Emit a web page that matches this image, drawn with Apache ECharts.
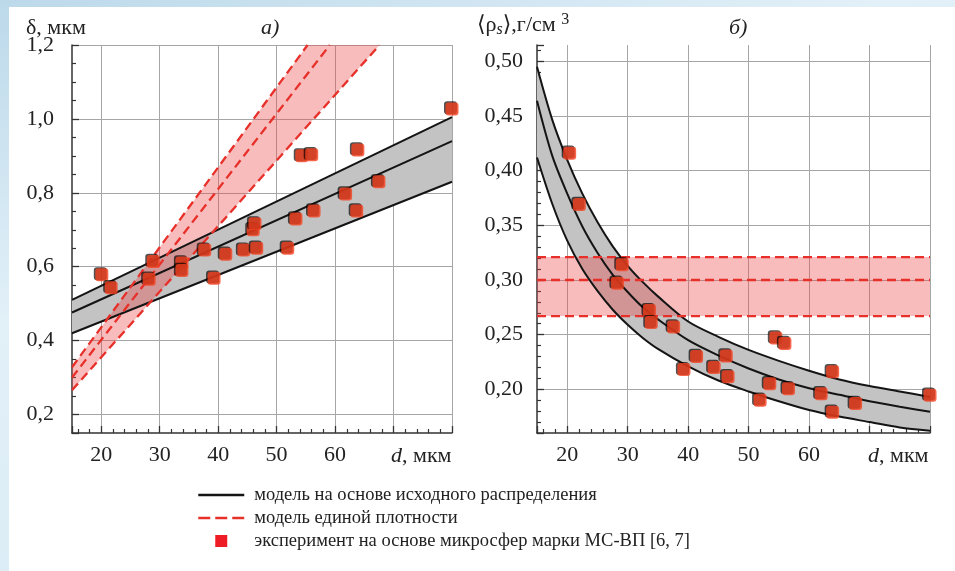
<!DOCTYPE html>
<html><head><meta charset="utf-8">
<script src="https://cdn.jsdelivr.net/npm/echarts@6/dist/echarts.min.js"></script>
<style>
html,body{margin:0;padding:0;width:955px;height:571px;overflow:hidden;background:linear-gradient(160deg,#bcd9ea 0%,#e2f0f8 35%,#d4e8f3 100%);}
#frame{position:absolute;left:9px;top:7px;right:0;bottom:0;background:#fff;}
#chart{position:absolute;left:0;top:0;width:955px;height:571px;}
</style></head><body><div id="frame"></div><div id="chart"></div>
<script>
// ---------- Panel а): δ vs d ----------
const dA = [20.1,21.7,28.2,28.9,33.8,33.8,37.7,39.3,41.3,44.4,46.0,46.3,46.6,51.9,53.3,54.3,56.0,56.4,61.8,63.7,63.9,67.5,80.0];
const deltaA = [0.578,0.543,0.566,0.614,0.610,0.590,0.645,0.569,0.634,0.645,0.700,0.716,0.650,0.650,0.729,0.900,0.903,0.751,0.797,0.751,0.916,0.830,1.027];
// model on initial distribution (black lines), at d = 15 and d = 80
const lineDA = [15, 80];
const lowerA = [0.420, 0.830];
const midA   = [0.476, 0.940];
const upperA = [0.510, 1.005];
// single-density model (red dashed), [d, δ] end points (upper end at the top of the axis)
const redLowerA = [[15,0.266],[67.6,1.2]];
const redMidA   = [[15,0.300],[59.1,1.2]];
const redUpperA = [[15,0.328],[55.3,1.2]];

// ---------- Panel б): <ρs> vs d ----------
const dB = [20.4,22.0,28.3,29.1,33.6,33.9,37.6,39.3,41.4,44.3,46.3,46.6,51.9,53.5,54.5,56.0,56.6,62.0,63.9,63.9,67.7,80.0];
const rhoB = [0.416,0.369,0.297,0.314,0.272,0.261,0.257,0.218,0.230,0.220,0.2305,0.2115,0.190,0.205,0.247,0.242,0.2006,0.196,0.216,0.179,0.187,0.1945];
const curveD = [15,17.5,20,22.5,25,27.5,30,32.5,35,40,45,50,55,60,65,70,75,80];
const upperB = [0.495,0.447,0.410,0.379,0.353,0.331,0.313,0.298,0.285,0.262,0.248,0.236,0.226,0.217,0.209,0.203,0.198,0.193];
const midB   = [0.464,0.414,0.379,0.349,0.325,0.305,0.289,0.275,0.264,0.245,0.231,0.219,0.209,0.201,0.195,0.189,0.184,0.1795];
const lowerB = [0.412,0.370,0.336,0.310,0.290,0.273,0.259,0.247,0.237,0.221,0.208,0.198,0.189,0.181,0.175,0.170,0.165,0.162];
const redDB = [15, 80];
const redLevelsB = [0.267, 0.300, 0.321];

const xTickLabels = ['20','30','40','50','60'];

const N_MODEL = 'модель на основе исходного распределения';
const N_SINGLE = 'модель единой плотности';
const N_EXP = 'эксперимент на основе микросфер марки МС-ВП [6, 7]';

const SERIF = "'Liberation Serif','DejaVu Serif',serif";
const BLACK = '#141414';
const RED = '#e8302a';
const DASH = [9,5];
const FS = 22;

const zip = (xs, ys) => xs.map((x,i)=>[x, ys[i]]);

function band(xi, upperPts, lowerPts, fill) {
  return {
    type:'custom', xAxisIndex:xi, yAxisIndex:xi, silent:true, z:1, clip:true,
    data:[[upperPts[0][0], upperPts[0][1]]],
    renderItem:(params, api) => {
      const pts = upperPts.map(p=>api.coord(p)).concat(lowerPts.slice().reverse().map(p=>api.coord(p)));
      return {type:'polygon', shape:{points:pts}, style:{fill:fill}};
    }
  };
}
function line(xi, name, data, color, type, smooth, width) {
  return {type:'line', name:name, xAxisIndex:xi, yAxisIndex:xi, data:data, symbol:'none', smooth:smooth||false,
    lineStyle:{color:color, width:width||2, type:type||'solid'}, itemStyle:{color:color}, z:3, silent:true};
}
const scatterStyle = {color:'#f5401e', shadowColor:'rgba(0,0,0,0.85)', shadowBlur:0.5, shadowOffsetX:-1.5, shadowOffsetY:-1.2};

const axisCommon = {
  axisLine:{show:true, onZero:false, lineStyle:{color:'#333', width:1.5}},
  axisTick:{show:true, inside:true, length:7, lineStyle:{color:'#333', width:1.3}},
  minorTick:{show:true, length:4, lineStyle:{color:'#333', width:1.2}},
  splitLine:{show:true, showMinLine:false, lineStyle:{color:'#a6a6a6', width:1}},
};
function xAxis(gi) {
  return Object.assign({}, axisCommon, {
    type:'value', gridIndex:gi, min:15, max:80, splitNumber:6,
    minorTick:Object.assign({}, axisCommon.minorTick, {splitNumber:5}),
    axisLabel:{fontFamily:SERIF, fontSize:FS, color:'#222', margin:11,
      formatter:v => { const s = String(Math.round(v)); return (Math.abs(v-Math.round(v))<1e-6 && xTickLabels.includes(s)) ? s : ''; }}
  });
}

const hiddenSymbol = {opacity:0, shadowBlur:0, shadowColor:'transparent'};

const option = {
  animation:false,
  backgroundColor:'transparent',
  grid:[
    {left:72, right:503, top:45, bottom:138},
    {left:537, right:25, top:45, bottom:138}
  ],
  xAxis:[xAxis(0), xAxis(1)],
  yAxis:[
    Object.assign({}, axisCommon, {type:'value', gridIndex:0, min:0.15, max:1.2, splitNumber:5,
      minorTick:Object.assign({}, axisCommon.minorTick, {splitNumber:4}),
      axisLabel:{fontFamily:SERIF, fontSize:FS, color:'#222', margin:18,
        formatter:v => v < 0.19 ? '' : v.toFixed(1).replace('.', ',')}}),
    Object.assign({}, axisCommon, {type:'value', gridIndex:1, min:0.16, max:0.515, splitNumber:7,
      splitLine:{show:true, showMinLine:false, showMaxLine:false, lineStyle:{color:'#a6a6a6', width:1}},
      minorTick:Object.assign({}, axisCommon.minorTick, {splitNumber:5}),
      axisLabel:{fontFamily:SERIF, fontSize:FS, color:'#222', margin:14,
        formatter:v => (v < 0.195 || v > 0.505) ? '' : v.toFixed(2).replace('.', ',')}})
  ],
  legend:{
    orient:'vertical', left:192, top:480, itemWidth:46, itemHeight:12, itemGap:3, selectedMode:false,
    textStyle:{fontFamily:SERIF, fontSize:18.5, color:'#222', lineHeight:20, padding:[0,0,0,5]},
    data:[
      {name:N_MODEL, itemStyle:hiddenSymbol, lineStyle:{width:2.5, color:BLACK}},
      {name:N_SINGLE, itemStyle:hiddenSymbol, lineStyle:{type:[12,5], width:2.5, color:RED}},
      {name:N_EXP, icon:'path://M0 0H10V10H0Z', itemStyle:{color:'#ee1c24', opacity:1, shadowBlur:0, shadowOffsetX:0, shadowOffsetY:0, shadowColor:'transparent'}}
    ]
  },
  graphic:[
    {type:'text', left:26, top:17, style:{text:'δ, мкм', font:FS+"px "+SERIF, fill:'#222'}},
    {type:'text', left:261, top:17, style:{text:'а)', font:"italic "+FS+"px "+SERIF, fill:'#222'}},
    {type:'text', left:477, top:12, style:{text:'⟨ρ{s|s}⟩,г/см {p|3}', font:FS+"px "+SERIF, fill:'#222',
      rich:{s:{fontStyle:'italic', fontSize:16, fontFamily:SERIF, verticalAlign:'bottom', padding:[10,0,0,0]},
            p:{fontSize:16, fontFamily:SERIF, verticalAlign:'top', padding:[0,0,10,0]}}}},
    {type:'text', left:729, top:17, style:{text:'б)', font:"italic "+FS+"px "+SERIF, fill:'#222'}},
    {type:'text', left:391, top:445, style:{text:'{i|d}, мкм', font:FS+"px "+SERIF, fill:'#222',
      rich:{i:{fontStyle:'italic', fontSize:FS, fontFamily:SERIF}}}},
    {type:'text', left:868, top:445, style:{text:'{i|d}, мкм', font:FS+"px "+SERIF, fill:'#222',
      rich:{i:{fontStyle:'italic', fontSize:FS, fontFamily:SERIF}}}}
  ],
  series:[
    // panel а)
    band(0, [[lineDA[0], upperA[0]],[lineDA[1], upperA[1]]], [[lineDA[0], lowerA[0]],[lineDA[1], lowerA[1]]], '#c3c3c3'),
    band(0, redUpperA, redLowerA, 'rgba(236,70,70,0.36)'),
    line(0, N_MODEL, zip(lineDA, upperA), BLACK),
    line(0, N_MODEL, zip(lineDA, midA), BLACK),
    line(0, N_MODEL, zip(lineDA, lowerA), BLACK),
    line(0, N_SINGLE, redUpperA, RED, DASH, false, 2.3),
    line(0, N_SINGLE, redMidA, RED, DASH, false, 2.3),
    line(0, N_SINGLE, redLowerA, RED, DASH, false, 2.3),
    {type:'scatter', name:N_EXP, xAxisIndex:0, yAxisIndex:0, data:zip(dA, deltaA), symbol:'roundRect', symbolSize:13, itemStyle:scatterStyle, z:5, silent:true},
    // panel б)
    band(1, zip(curveD, upperB), zip(curveD, lowerB), '#c3c3c3'),
    band(1, [[redDB[0], redLevelsB[2]],[redDB[1], redLevelsB[2]]], [[redDB[0], redLevelsB[0]],[redDB[1], redLevelsB[0]]], 'rgba(236,70,70,0.36)'),
    line(1, N_MODEL, zip(curveD, upperB), BLACK, 'solid', 0.3),
    line(1, N_MODEL, zip(curveD, midB), BLACK, 'solid', 0.3),
    line(1, N_MODEL, zip(curveD, lowerB), BLACK, 'solid', 0.3),
    ...redLevelsB.map(v => line(1, N_SINGLE, [[redDB[0], v],[redDB[1], v]], RED, DASH, false, 2.3)),
    {type:'scatter', name:N_EXP, xAxisIndex:1, yAxisIndex:1, data:zip(dB, rhoB), symbol:'roundRect', symbolSize:13, itemStyle:scatterStyle, z:5, silent:true}
  ]
};
const chart = echarts.init(document.getElementById('chart'), null, {renderer:'canvas'});
chart.setOption(option);
</script>
</body></html>
